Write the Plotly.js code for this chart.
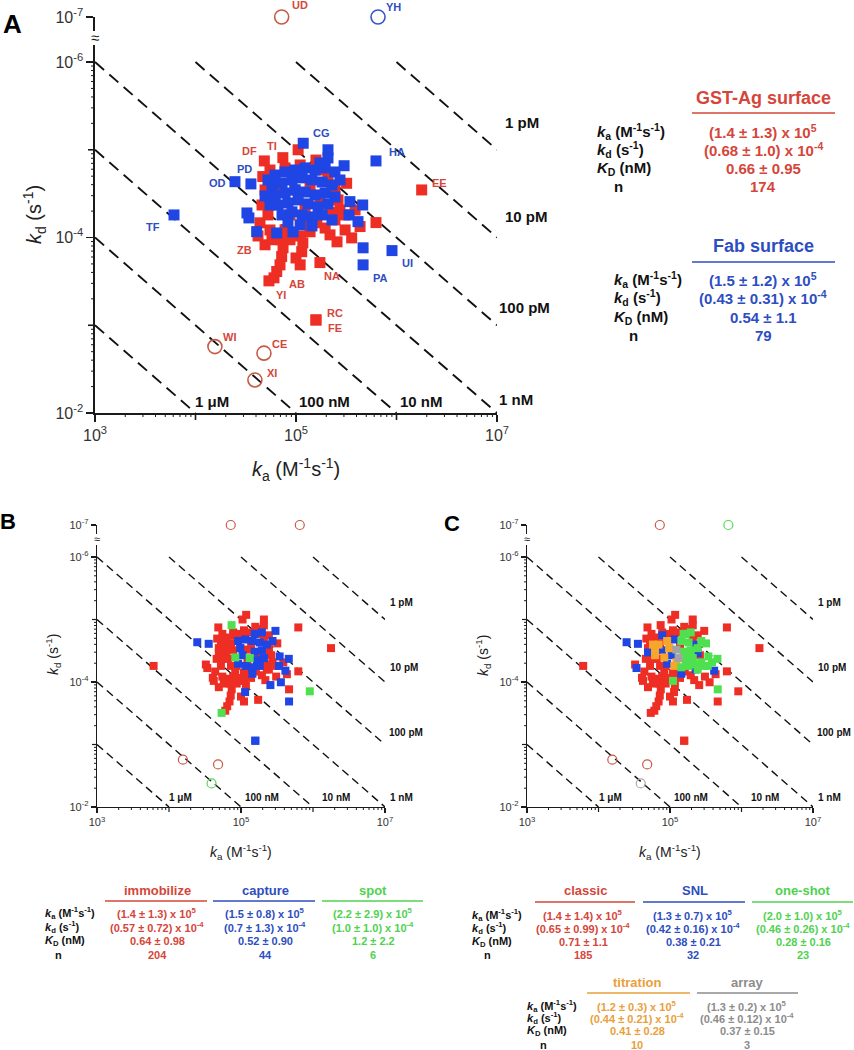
<!DOCTYPE html>
<html><head><meta charset="utf-8">
<script src="https://cdn.plot.ly/plotly-3.0.1.min.js"></script>
<style>html,body{margin:0;padding:0;background:#fff;}#chart{width:854px;height:1050px;}</style>
</head><body><div id="chart"></div>
<script>
// ---------------- DATA ----------------
// GST-Ag surface antibodies (red in A)
const gstKa = [
 1.78e6, 7.4e4, 4.84e4, 1.05e5, 1.58e5, 4.67e4, 3.19e5, 6.25e5, 4.34e5, 3.58e5,
 3.08e5, 2.56e5, 1.73e5, 1.14e5, 1.17e5, 7.43e4, 7.2e4, 6.93e4, 6.43e4, 6.04e4,
 5.38e4, 4.19e4, 4.59e4, 1.61e5, 1.58e5, 1.58e5, 2.18e5, 2.44e5, 4.38e4, 5.51e4,
 8.71e4, 1.10e5, 1.38e5, 1.95e5, 2.74e5, 5.26e4, 4.92e4, 5.51e4, 7.78e4, 1.10e5,
 1.66e5, 2.08e5, 2.44e5, 2.62e5, 6.93e4, 6.18e4, 8.71e4, 1.23e5, 1.73e5, 9.77e4,
 1.38e5, 7.78e4, 1.23e5, 5.77e4, 3.08e5, 3.87e5, 2.18e5, 4.92e4, 1.0e5, 1.10e5,
 7.10e4, 7.2e4, 1.56e4, 4.8e4, 3.9e4];
const gstKd = [
 2.87e-5, 1.23e-5, 1.34e-5, 1.0e-5, 1.31e-5, 2.02e-5, 2.41e-5, 6.76e-5, 7.5e-5, 1.01e-4,
 8.2e-5, 1.12e-4, 1.93e-4, 1.45e-4, 1.15e-4, 1.31e-4, 1.65e-4, 2.05e-4, 2.44e-4, 2.88e-4,
 3.12e-4, 9.6e-5, 4.26e-5, 6.8e-5, 8.7e-4, 8.7e-4, 5.2e-5, 6.3e-5, 6.8e-5, 8.2e-5,
 1.06e-4, 9.6e-5, 8.6e-5, 7.8e-5, 4.85e-5, 5.53e-5, 2.87e-5, 1.70e-5, 1.61e-5, 1.49e-5,
 1.70e-5, 1.94e-5, 2.87e-5, 3.73e-5, 2.52e-5, 3.73e-5, 5.53e-5, 4.85e-5, 3.73e-5, 2.87e-5,
 2.52e-5, 8.2e-5, 6.64e-5, 1.06e-4, 5.53e-5, 4.85e-5, 9.33e-5, 1.21e-4, 1.71e-4, 2.05e-4,
 1.06e-4, 1e-7, 1.75e-3, 2.08e-3, 4.2e-3];
// method: I=immobilize C=capture S=spot ; format: c=classic s=SNL o=one-shot t=titration a=array
const gstMethod = 'ISIIIIIIIC ICICIIIIII SIIICCIIII IIIIIIIIII IIIIIIIIII IIIIIIIIII IIIIS';
const gstFormat = 'ccccccoccc cccccccccc ccccccoocc coccoccccc ococttctot ccccoocccc cccca';
const gstNames = {1:'EE',2:'TI',3:'DF',13:'NA',20:'AB',21:'YI',22:'ZB',25:'RC',26:'FE',62:'UD',63:'WI',64:'CE',65:'XI'};

// Fab surface antibodies (blue in A)
const fabKa = [
 1.18e5, 6.25e5, 3.01e5, 2.47e4, 3.56e4, 4.92e4, 3.25e4, 6.11e3, 4.06e4, 6.43e4,
 9.33e4, 3.44e5, 4.61e5, 3.37e5, 4.14e5, 4.65e5, 9.02e5, 4.65e5, 2.08e5, 3.40e4,
 6.18e4, 7.78e4, 9.77e4, 1.23e5, 1.55e5, 1.95e5, 2.44e5, 5.77e4, 7.26e4, 9.12e4,
 1.15e5, 1.44e5, 1.82e5, 2.28e5, 2.74e5, 6.18e4, 7.78e4, 9.77e4, 1.23e5, 1.55e5,
 1.95e5, 2.44e5, 6.62e4, 8.32e4, 1.05e5, 1.32e5, 1.66e5, 2.08e5, 7.26e4, 9.12e4,
 1.15e5, 1.44e5, 1.82e5, 2.28e5, 8.32e4, 1.10e5, 1.44e5, 5.51e4, 5.26e4, 2.08e5,
 1.73e5, 6.55e5];
const fabKd = [
 8.43e-6, 1.34e-5, 1.52e-5, 2.31e-5, 2.45e-5, 3.36e-5, 5.25e-5, 5.53e-5, 8.57e-5, 8.87e-5,
 8.63e-5, 3.90e-5, 4.26e-5, 5.53e-5, 6.59e-5, 1.31e-4, 1.41e-4, 2.05e-4, 1.24e-5, 5.98e-5,
 1.94e-5, 1.79e-5, 1.70e-5, 1.61e-5, 1.70e-5, 1.61e-5, 1.79e-5, 2.52e-5, 2.39e-5, 2.21e-5,
 2.09e-5, 2.21e-5, 2.33e-5, 2.52e-5, 2.21e-5, 3.27e-5, 3.11e-5, 2.87e-5, 3.03e-5, 3.27e-5,
 3.11e-5, 3.45e-5, 4.26e-5, 4.04e-5, 3.73e-5, 4.14e-5, 4.48e-5, 4.14e-5, 5.53e-5, 5.10e-5,
 5.53e-5, 5.82e-5, 5.53e-5, 6.3e-5, 6.64e-5, 7.18e-5, 7.38e-5, 4.26e-5, 2.21e-5, 1.0e-5,
 1.41e-5, 1e-7];
const fabMethod = 'IICCCIIIII ICCCCISCII IIIICCIIIC CCCCCIICIC CIISCSCCIC CCCIIICIII II';
const fabFormat = 'cccssscccc cooosocccs csccooctct soosotstao osctsaoocs toosccsccc co';
const fabNames = {1:'CG',2:'HA',4:'OD',5:'PD',8:'TF',17:'UI',18:'PA',62:'YH'};

const openMarks = ['UD','WI','CE','XI','YH'];   // open circles (off-scale / weak)

const methodNames = {I:'immobilize', C:'capture', S:'spot'};
const formatNames = {c:'classic', s:'SNL', o:'one-shot', t:'titration', a:'array'};

// iso-affinity lines
const isoKD = [1e-12, 1e-11, 1e-10, 1e-9, 1e-8, 1e-7, 1e-6];
const isoLabel = ['1 pM','10 pM','100 pM','1 nM','10 nM','100 nM','1 μM'];

// axis ticks
const xLabeled = [1e3,1e5,1e7];
const xLabelText = ['10<sup>3</sup>','10<sup>5</sup>','10<sup>7</sup>'];
const xPlainMajor = [1e4,1e6];
const yLabeled = [1e-6,1e-4,1e-2];
const yLabelText = ['10<sup>-6</sup>','10<sup>-4</sup>','10<sup>-2</sup>'];
const yPlainMajor = [1e-5,1e-3];

// statistics tables
const statLabels = ['<b><i>k</i><sub>a</sub> (M<sup>-1</sup>s<sup>-1</sup>)</b>','<b><i>k</i><sub>d</sub> (s<sup>-1</sup>)</b>','<b><i>K</i><sub>D</sub> (nM)</b>','<b>n</b>'];
const tableA = [
 {title:'GST-Ag surface', c:'red', values:['(1.4 ± 1.3) x 10<sup>5</sup>','(0.68 ± 1.0) x 10<sup>-4</sup>','0.66 ± 0.95','174']},
 {title:'Fab surface', c:'blue', values:['(1.5 ± 1.2) x 10<sup>5</sup>','(0.43 ± 0.31) x 10<sup>-4</sup>','0.54 ± 1.1','79']}];
const tableB = [
 {title:'immobilize', c:'red', values:['(1.4 ± 1.3) x 10<sup>5</sup>','(0.57 ± 0.72) x 10<sup>-4</sup>','0.64 ± 0.98','204']},
 {title:'capture', c:'blue', values:['(1.5 ± 0.8) x 10<sup>5</sup>','(0.7 ± 1.3) x 10<sup>-4</sup>','0.52 ± 0.90','44']},
 {title:'spot', c:'green', values:['(2.2 ± 2.9) x 10<sup>5</sup>','(1.0 ± 1.0) x 10<sup>-4</sup>','1.2 ± 2.2','6']}];
const tableC = [
 {title:'classic', c:'red', values:['(1.4 ± 1.4) x 10<sup>5</sup>','(0.65 ± 0.99) x 10<sup>-4</sup>','0.71 ± 1.1','185']},
 {title:'SNL', c:'blue', values:['(1.3 ± 0.7) x 10<sup>5</sup>','(0.42 ± 0.16) x 10<sup>-4</sup>','0.38 ± 0.21','32']},
 {title:'one-shot', c:'green', values:['(2.0 ± 1.0) x 10<sup>5</sup>','(0.46 ± 0.26) x 10<sup>-4</sup>','0.28 ± 0.16','23']},
 {title:'titration', c:'orange', values:['(1.2 ± 0.3) x 10<sup>5</sup>','(0.44 ± 0.21) x 10<sup>-4</sup>','0.41 ± 0.28','10']},
 {title:'array', c:'gray', values:['(1.3 ± 0.2) x 10<sup>5</sup>','(0.46 ± 0.12) x 10<sup>-4</sup>','0.37 ± 0.15','3']}];

// ---------------- STYLE ----------------
const FONT = 'Liberation Sans, Arial, Helvetica, sans-serif';
const W = 854, H = 1050;
const px = x => x / W, py = y => 1 - y / H;
const FILL = {red:'#ee2e24', blue:'#1f45e4', green:'#4fe04f', orange:'#f6a62a', gray:'#a3a3a3'};
const RING = {red:'#c65a48', blue:'#3656cf', green:'#58d658', orange:'#eea040', gray:'#ababab'};
const TXT  = {red:'#d5463a', blue:'#2d4ec0', green:'#4fd24f', orange:'#e9a03a', gray:'#8c8c8c'};
const labelOffset = {UD:[18,-12], YH:[15,-10], CG:[18,-10], HA:[21,-9], TI:[-11,-12], DF:[-15,-10],
 PD:[-6,-15], OD:[-17,1], TF:[-21,12], EE:[18,-7], ZB:[-14,14], AB:[23,6], YI:[12,14], NA:[12,13],
 PA:[17,13], UI:[15,12], RC:[19,-7], FE:[19,8], WI:[15,-10], CE:[16,-9], XI:[17,-7]};

// ---------------- BUILD POINTS ----------------
const pts = [];
function addGroup(kaArr, kdArr, mStr, fStr, names, surf) {
  const m = mStr.replace(/ /g,''), f = fStr.replace(/ /g,'');
  if (m.length !== kaArr.length || f.length !== kaArr.length || kdArr.length !== kaArr.length)
    console.warn('length mismatch', surf, kaArr.length, kdArr.length, m.length, f.length);
  kaArr.forEach((v, i) => {
    const name = names[i+1] || '';
    pts.push({ka:v, kd:kdArr[i], surface:surf, method:methodNames[m[i]], format:formatNames[f[i]],
              name, open: openMarks.includes(name)});
  });
}
addGroup(gstKa, gstKd, gstMethod, gstFormat, gstNames, 'GST');
addGroup(fabKa, fabKd, fabMethod, fabFormat, fabNames, 'Fab');

// minor tick positions (x: standard log; y: as drawn in the reference, crowded toward each upper decade)
const xMinor = []; for (let e = 3; e < 7; e++) for (let k = 2; k <= 9; k++) xMinor.push(k * Math.pow(10, e));
const yMinor = []; for (let e = -6; e < -2; e++) for (let k = 2; k <= 9; k++) yMinor.push(Math.pow(10, e + 1) / k);

const panels = [
 {id:'A', key:'surface', order:['GST','Fab'], col:{GST:'red', Fab:'blue'},
  xa:'x', ya:'y', yb:'y2',
  xdom:[95,497], ymain:[413,45], ybrk:[31,17], top:-6.194,
  sq:11, ci:14, cw:1.6, tickfs:16, tl:7, mtl:4, lw:1.6, dash:'12px,7px', dw:1.9, isofs:15,
  isoShift:[[6,27],[6,21],[0,18],[0,13],[1,11],[1,11],[-3,11]],
  letter:[12,24,26], xt:[296,470,20], yt:[35,215,20], brk:[95,37,15]},
 {id:'B', key:'method', order:['immobilize','capture','spot'], col:{immobilize:'red', capture:'blue', spot:'green'},
  xa:'x2', ya:'y3', yb:'y4',
  xdom:[97,385], ymain:[807,545], ybrk:[534,525], top:-6.192,
  sq:8, ci:9, cw:1.2, tickfs:11, tl:5, mtl:3, lw:1.2, dash:'8px,5px', dw:1.4, isofs:10,
  isoShift:[[3,17],[3,15],[2,12],[3,10],[7,10],[2,10],[-2,10]],
  letter:[8,521,22], xt:[241,852,14], yt:[53,655,14], brk:[97,539,11]},
 {id:'C', key:'format', order:['classic','SNL','titration','one-shot','array'],
  col:{classic:'red', SNL:'blue', 'one-shot':'green', titration:'orange', array:'gray'},
  xa:'x3', ya:'y5', yb:'y6',
  xdom:[527,813], ymain:[807,545], ybrk:[534,525], top:-6.192,
  sq:8, ci:9, cw:1.2, tickfs:11, tl:5, mtl:3, lw:1.2, dash:'8px,5px', dw:1.4, isofs:10,
  isoShift:[[3,17],[3,15],[2,12],[3,10],[7,10],[2,10],[-2,10]],
  letter:[452,523,22], xt:[670,852,14], yt:[483,655,14], brk:[527,539,11]}
];

const traces = [], annotations = [], shapes = [], layout = {};
const AX = '#1a1a1a';
function axName(id) { return id[0] + 'axis' + (id.length > 1 ? id.slice(1) : ''); }
function ann(x, y, text, size, color, extra) {
  annotations.push(Object.assign({xref:'paper', yref:'paper', x:px(x), y:py(y), text, showarrow:false,
    xanchor:'center', yanchor:'middle', font:{family:FONT, size, color}}, extra || {}));
}
function baseAxis(extra) {
  return Object.assign({type:'log', ticks:'outside', tickcolor:AX, tickmode:'array',
    showgrid:false, zeroline:false, fixedrange:true}, extra);
}

panels.forEach(P => {
  const wpx = P.xdom[1] - P.xdom[0], hpx = P.ymain[0] - P.ymain[1];
  // main axes
  layout[axName(P.xa)] = baseAxis({range:[3,7], domain:[px(P.xdom[0]), px(P.xdom[1])], anchor:P.ya,
    showline:true, linecolor:AX, linewidth:P.lw, ticklen:P.tl, tickwidth:P.lw,
    tickvals:xLabeled, ticktext:xLabelText, tickfont:{family:FONT, size:P.tickfs, color:'#333'}});
  layout[axName(P.ya)] = baseAxis({range:[-2, P.top], domain:[py(P.ymain[0]), py(P.ymain[1])], anchor:P.xa,
    showline:true, linecolor:AX, linewidth:P.lw, ticklen:P.tl, tickwidth:P.lw,
    tickvals:yLabeled, ticktext:yLabelText, tickfont:{family:FONT, size:P.tickfs, color:'#333'}});
  layout[axName(P.yb)] = baseAxis({range:[-6.85, -7], domain:[py(P.ybrk[0]), py(P.ybrk[1])], anchor:P.xa,
    showline:true, linecolor:AX, linewidth:P.lw, ticklen:P.tl, tickwidth:P.lw,
    tickvals:[1e-7], ticktext:['10<sup>-7</sup>'], tickfont:{family:FONT, size:P.tickfs, color:'#333'}});

  // unlabeled major ticks and minor ticks (outside), placed in axis data units
  [[xPlainMajor, P.tl, P.lw], [xMinor, P.mtl, 1]].forEach(([vals, len, w]) => vals.forEach(v =>
    shapes.push({type:'line', xref:P.xa, yref:P.ya + ' domain', x0:v, x1:v, y0:0, y1:-len / hpx,
      line:{color:AX, width:w}, layer:'above'})));
  [[yPlainMajor, P.tl, P.lw], [yMinor, P.mtl, 1]].forEach(([vals, len, w]) => vals.forEach(v =>
    shapes.push({type:'line', xref:P.xa + ' domain', yref:P.ya, x0:0, x1:-len / wpx, y0:v, y1:v,
      line:{color:AX, width:w}, layer:'above'})));

  // iso-KD dashed lines
  isoKD.forEach((K, i) => {
    const ka0 = Math.max(1e3, 1e-6 / K), ka1 = Math.min(1e7, 1e-2 / K);
    traces.push({type:'scatter', mode:'lines', x:[ka0, ka1], y:[K*ka0, K*ka1], xaxis:P.xa, yaxis:P.ya,
      line:{color:'#111', width:P.dw, dash:P.dash}, hoverinfo:'skip', showlegend:false});
    annotations.push({xref:P.xa, yref:P.ya, x:Math.log10(ka1), y:Math.log10(K*ka1), text:'<b>'+isoLabel[i]+'</b>',
      showarrow:false, xanchor:'left', yanchor:'middle', xshift:P.isoShift[i][0], yshift:P.isoShift[i][1],
      font:{family:FONT, size:P.isofs, color:'#111'}});
  });

  // points
  P.order.forEach(cat => {
    const c = P.col[cat];
    const sel = pts.filter(p => p[P.key] === cat);
    const sq = sel.filter(p => !p.open);
    const om = sel.filter(p => p.open && p.kd > 1e-7);
    const ot = sel.filter(p => p.open && p.kd <= 1e-7);
    if (sq.length) traces.push({type:'scatter', mode:'markers', x:sq.map(p=>p.ka), y:sq.map(p=>p.kd),
      xaxis:P.xa, yaxis:P.ya, cliponaxis:false, hoverinfo:'skip', showlegend:false,
      marker:{symbol:'square', size:P.sq, color:FILL[c], line:{width:0}}});
    [[om, P.ya], [ot, P.yb]].forEach(([arr, yax]) => {
      if (arr.length) traces.push({type:'scatter', mode:'markers', x:arr.map(p=>p.ka), y:arr.map(p=>p.kd),
        xaxis:P.xa, yaxis:yax, cliponaxis:false, hoverinfo:'skip', showlegend:false,
        marker:{symbol:'circle-open', size:P.ci, color:RING[c], line:{width:P.cw, color:RING[c]}}});
    });
  });

  // axis titles, letter, break mark
  ann(P.letter[0], P.letter[1], '<b>'+P.id+'</b>', P.letter[2], '#000');
  ann(P.xt[0], P.xt[1], '<i>k</i><sub>a</sub> (M<sup>-1</sup>s<sup>-1</sup>)', P.xt[2], '#222');
  ann(P.yt[0], P.yt[1], '<i>k</i><sub>d</sub> (s<sup>-1</sup>)', P.yt[2], '#222', {textangle:-90});
  ann(P.brk[0], P.brk[1], '≈', P.brk[2], '#222');
});

// point labels (panel A)
pts.filter(p => p.name).forEach(p => {
  const o = labelOffset[p.name] || [12,-8];
  annotations.push({xref:'x', yref: p.kd <= 1e-7 ? 'y2' : 'y', x:Math.log10(p.ka), y:Math.log10(p.kd),
    text:'<b>'+p.name+'</b>', showarrow:false, xshift:o[0], yshift:-o[1],
    font:{family:FONT, size:11, color: p.surface === 'GST' ? TXT.red : TXT.blue}});
});

// tables
function table(tbl, cfg) {
  tbl.forEach((t, j) => {
    const cx = cfg.cx[j];
    ann(cx, cfg.titleY, '<b>'+t.title+'</b>', cfg.tfs, TXT[t.c]);
    shapes.push({type:'line', xref:'paper', yref:'paper', x0:px(cfg.lines[j][0]), x1:px(cfg.lines[j][1]),
      y0:py(cfg.lineY), y1:py(cfg.lineY), line:{color:TXT[t.c], width:1.5}});
    t.values.forEach((v, r) => ann(cfg.vx ? cfg.vx[j] : cx, cfg.rows[r], '<b>'+v+'</b>', cfg.fs, TXT[t.c]));
  });
  statLabels.forEach((l, r) => ann(r === 3 ? cfg.nX : cfg.labelX, cfg.rows[r], l, cfg.fs, '#111', {xanchor:'left'}));
}
table([tableA[0]], {cx:[763], titleY:98, lineY:113, lines:[[692,835]], rows:[132,150,168,186], labelX:595, nX:612, tfs:18, fs:15});
table([tableA[1]], {cx:[763], titleY:246, lineY:262, lines:[[692,835]], rows:[280,298,317,335], labelX:612, nX:627, tfs:18, fs:15});
table(tableB, {cx:[157,265,373], titleY:890, lineY:901, lines:[[105,207],[213,315],[322,423]], rows:[913,927,941,955], labelX:43, nX:53, tfs:13, fs:11});
table(tableC.slice(0,3), {cx:[585,695,803], vx:[583,693,803], titleY:890, lineY:902, lines:[[535,635],[643,745],[752,853]], rows:[915,928,942,955], labelX:470, nX:482, tfs:13, fs:11});
table(tableC.slice(3), {cx:[637,747], titleY:982, lineY:993, lines:[[587,690],[697,798]], rows:[1006,1018,1031,1045], labelX:525, nX:538, tfs:13, fs:11});

Object.assign(layout, {width:W, height:H, margin:{l:0, r:0, t:0, b:0}, showlegend:false,
  paper_bgcolor:'#fff', plot_bgcolor:'rgba(0,0,0,0)', font:{family:FONT}, annotations, shapes});

Plotly.newPlot('chart', traces, layout, {staticPlot:true, displayModeBar:false});
</script></body></html>
